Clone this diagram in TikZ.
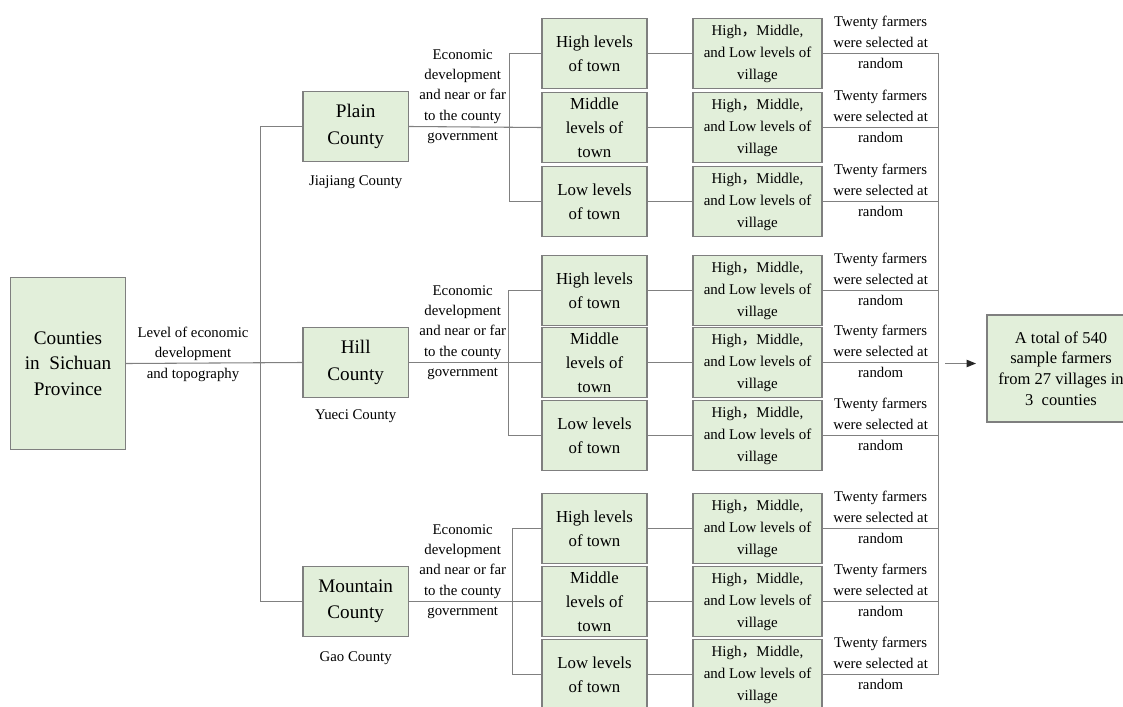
\documentclass[tikz,border=0pt]{standalone}
\usepackage{fontspec}
\setmainfont{Liberation Serif}
\newfontfamily\cjkfont{Noto Sans CJK SC}
\usetikzlibrary{calc,arrows.meta}
\definecolor{boxfill}{HTML}{E2EFDA}
\definecolor{boxline}{HTML}{7F7F7F}
\definecolor{linegray}{HTML}{808080}
\begin{document}
\begin{tikzpicture}[x=0.75pt,y=-0.75pt,
  box/.style={draw=boxline, fill=boxfill, line width=0.9pt, inner sep=0pt, align=center},
  mainbox/.style={box, minimum width=86.25pt, minimum height=129pt, font=\fontsize{14.4}{19.1}\selectfont},
  countybox/.style={box, minimum width=79.1pt, minimum height=52.9pt, font=\fontsize{14.4}{19.75}\selectfont},
  townbox/.style={box, minimum width=78.75pt, minimum height=52.5pt, font=\fontsize{12.6}{18}\selectfont},
  villbox/.style={box, minimum width=96.75pt, minimum height=52.5pt, font=\fontsize{11.2}{16.5}\selectfont},
  totalbox/.style={box, minimum width=111pt, minimum height=80.25pt, font=\fontsize{12.4}{15.5}\selectfont},
  lbl/.style={align=center, inner sep=0pt, font=\fontsize{11.1}{15.3}\selectfont},
  twenty/.style={align=center, inner sep=0pt, font=\fontsize{11.1}{15.75}\selectfont},
  link/.style={draw=linegray, line width=0.8pt}]
\useasboundingbox (0,0) rectangle (1123,706);
\clip (0,0) rectangle (1123,706);

% main boxes
\node[mainbox] (counties) at (68,363.5) {Counties\\in\ \ Sichuan\\Province};
\node[countybox] (plain) at (355.7,126.5) {Plain\\County};
\node[countybox] (hill) at (355.7,362.5) {Hill\\County};
\node[countybox] (mountain) at (355.7,601.5) {Mountain\\County};

\node[lbl] (lev) at (193,354) {Level of economic\\development\\and topography};
\node[lbl] (jia) at ($(plain.south)+(0,20)$) {Jiajiang County};
\node[lbl] (yue) at ($(hill.south)+(0,18)$) {Yueci County};
\node[lbl] (gao) at ($(mountain.south)+(0,21)$) {Gao County};

\node[lbl] (pe) at ($(plain.center)+(107,-30)$) {Economic\\development\\and near or far\\to the county\\government};
\node[lbl] (he) at ($(hill.center)+(107,-30)$) {Economic\\development\\and near or far\\to the county\\government};
\node[lbl] (me) at ($(mountain.center)+(107,-30)$) {Economic\\development\\and near or far\\to the county\\government};

% towns and villages
\foreach \g/\ya/\yb/\yc in {p/53.5/127.5/201.5, h/290.5/362.5/435.5, m/528.5/601.5/674.5} {
  \node[townbox] (\g-t1) at (594.5,\ya) {High levels\\of town};
  \node[townbox] (\g-t2) at (594.5,\yb) {Middle\\levels of\\town};
  \node[townbox] (\g-t3) at (594.5,\yc) {Low levels\\of town};
  \foreach \i/\yy in {1/\ya,2/\yb,3/\yc} {
    \node[villbox] (\g-v\i) at (757.5,\yy) {High{\cjkfont ，}Middle,\\and Low levels of\\village};
    \node[twenty] (\g-f\i) at ($(\g-v\i.east)+(58,-11)$) {Twenty farmers\\were selected at\\random};
  }
}

\node[totalbox] (total) at (1061,368.5) {A total of 540\\sample farmers\\from 27 villages in\\3\ \ counties};

% coordinates
\coordinate (trunk) at (260.5,363);
\coordinate (pbr) at (509.5,0);
\coordinate (hbr) at (508.5,0);
\coordinate (mbr) at (512.5,0);
\coordinate (rline) at (938.5,0);
\coordinate (a1) at (945,363.5);
\coordinate (a2) at (976,363.5);

% connectors
\draw[link] (counties.east) -- (hill.west);
\draw[link] (plain.west) -- (plain.west -| trunk) -- (mountain.west -| trunk) -- (mountain.west);

\draw[link] (plain.east) -- (p-t2.west);
\draw[link] (hill.east) -- (h-t2.west);
\draw[link] (mountain.east) -- (m-t2.west);
\foreach \g in {p,h,m} {
  \draw[link] (\g-t1.west) -- (\g-t1.west -| \g br) -- (\g-t3.west -| \g br) -- (\g-t3.west);
  \foreach \i in {1,2,3} {
    \draw[link] (\g-t\i.east) -- (\g-v\i.west);
    \draw[link] (\g-v\i.east) -- (\g-v\i.east -| rline);
  }
}
\draw[link] (p-v1.east -| rline) -- (m-v3.east -| rline);
\draw[link, -{Triangle[length=7pt,width=5.5pt,color=black!85]}] (a1) -- (a2);
\end{tikzpicture}
\end{document}
